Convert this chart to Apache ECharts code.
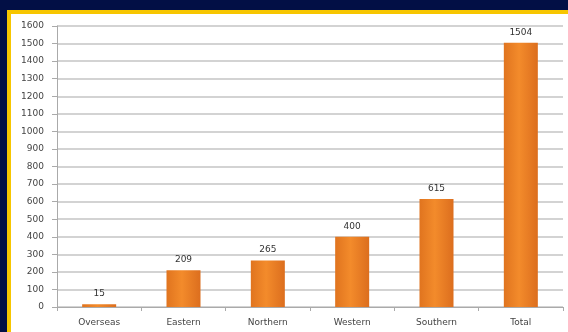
<!DOCTYPE html>
<html>
<head>
<meta charset="utf-8">
<script src="https://cdn.jsdelivr.net/npm/echarts@6/dist/echarts.min.js"></script>
<style>
  html, body { margin: 0; padding: 0; }
  body { width: 568px; height: 332px; background: #020f45; position: relative; overflow: hidden; }
  .frame {
    position: absolute; left: 7px; top: 10px; width: 580px; height: 340px;
    border-left: 4px solid #f7c600; border-top: 4px solid #f7c600;
    background: #fff;
  }
  #chart { position: absolute; left: 0; top: 0; width: 568px; height: 332px; }
</style>
</head>
<body>
<div class="frame"></div>
<div id="chart"></div>
<script>
const categories = ['Overseas', 'Eastern', 'Northern', 'Western', 'Southern', 'Total']
const values = [15, 209, 265, 400, 615, 1504]

const chart = echarts.init(document.getElementById('chart'))
chart.setOption({
  animation: false,
  grid: { left: 57, right: 5, top: 26, bottom: 25 },
  xAxis: {
    type: 'category',
    data: categories,
    axisLine: { lineStyle: { color: '#aaa', width: 1 } },
    axisTick: { show: true, alignWithLabel: false, length: 4, lineStyle: { color: '#aaa' } },
    axisLabel: { color: '#444', fontSize: 9, margin: 11, fontFamily: 'DejaVu Sans' }
  },
  yAxis: {
    type: 'value',
    min: 0,
    max: 1600,
    interval: 100,
    axisLine: { show: true, lineStyle: { color: '#aaa', width: 1 } },
    axisTick: { show: true, length: 5, lineStyle: { color: '#aaa' } },
    axisLabel: { color: '#444', fontSize: 9, margin: 13, fontFamily: 'DejaVu Sans', formatter: v => String(v) },
    splitLine: { lineStyle: { color: '#c4c4c4', width: 1.5 } }
  },
  series: [{
    type: 'bar',
    data: values,
    barWidth: 34,
    itemStyle: {
      color: new echarts.graphic.LinearGradient(0, 0, 1, 0, [
        { offset: 0, color: '#e0741f' },
        { offset: 0.45, color: '#f38b2b' },
        { offset: 1, color: '#dc6e1e' }
      ])
    },
    label: {
      show: true,
      position: 'top',
      distance: 6,
      color: '#333',
      fontSize: 9,
      fontFamily: 'DejaVu Sans'
    }
  }]
})
</script>
</body>
</html>
